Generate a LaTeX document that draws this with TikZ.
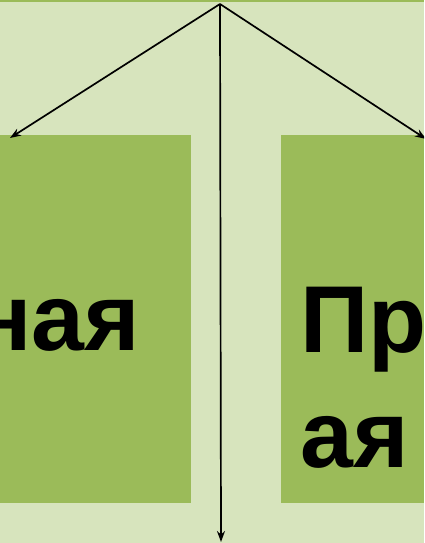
\documentclass[tikz,border=0pt]{standalone}
\usepackage{fontspec}
\setmainfont{Liberation Sans}
\usetikzlibrary{arrows.meta}
\definecolor{bg}{HTML}{D7E4BD}
\definecolor{boxg}{HTML}{9BBB59}
\begin{document}
\begin{tikzpicture}[x=1pt,y=-1pt,
  arr/.style={-{Stealth[length=11pt,width=8pt]}, line width=1.7pt},
  greenbox/.style={fill=boxg, draw=none, inner sep=0pt},
  bigtxt/.style={font=\fontsize{95}{115}\selectfont\bfseries, inner sep=0pt}]
\useasboundingbox (0,0) rectangle (424,543);
\clip (0,0) rectangle (424,543);
\fill[bg] (0,0) rectangle (424,543);
\fill[boxg] (0,0) rectangle (424,2);
\node (L) [greenbox, minimum width=191pt, minimum height=368pt, anchor=north west] at (0,135) {};
\node (R) [greenbox, minimum width=143pt, minimum height=368pt, anchor=north west] at (281,135) {};
\node (t1) [bigtxt, anchor=base east] at (140,350) {ная};
\node (t2) [bigtxt, anchor=base west] at (300,352) {Пр};
\node (t3) [bigtxt, anchor=base west] at (300,467) {ая};
\coordinate (top) at (220,4);
\coordinate (lt) at (10,138);
\coordinate (rt) at (426,139);
\coordinate (bt) at (221,542);
\draw[arr] (top) -- (lt);
\draw[arr] (top) -- (rt);
\draw[arr] (top) -- (bt);
\end{tikzpicture}
\end{document}
